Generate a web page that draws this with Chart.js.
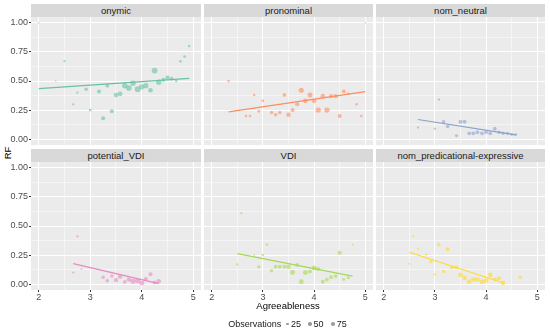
<!DOCTYPE html>
<html>
<head>
<meta charset="utf-8">
<script src="https://cdn.jsdelivr.net/npm/chart.js@4.4.1/dist/chart.umd.min.js"></script>
<style>
  body { margin: 0; width: 550px; height: 330px; position: relative; overflow: hidden; background: #fff;
         font-family: "Liberation Sans", Arial, sans-serif; }
  canvas { position: absolute; }
  .strip { position: absolute; height: 13px; line-height: 13px; background: #D9D9D9; color: #1A1A1A;
           font-size: 9.5px; text-align: center; }
  .ytitle { position: absolute; left: 7px; top: 153px; transform: translate(-50%, -50%) rotate(-90deg);
            font-size: 9.5px; color: #000; }
  .xtitle { position: absolute; left: 288px; top: 305px; transform: translate(-50%, -50%);
            font-size: 9.5px; color: #000; white-space: nowrap; }
  .legend { position: absolute; left: 28px; width: 522px; top: 318px; height: 12px; display: flex;
            justify-content: center; align-items: center; font-size: 9px; color: #1A1A1A; }
  .legend .dot { display: inline-block; border-radius: 50%; background: rgba(51,51,51,0.5); margin: 0 2px 0 4px; }
  .legend .lab { margin-right: 3px; }
</style>
</head>
<body>
<script>
'use strict';

// ---- data (Agreeableness, RF, number of observations) ----
const onymicX  = [2.0, 2.33, 2.5, 2.67, 2.75, 2.92, 3.0, 3.17, 3.25, 3.33, 3.42, 3.5, 3.58, 3.67, 3.75, 3.83, 3.92, 4.0, 4.08, 4.17, 4.25, 4.33, 4.42, 4.5, 4.58, 4.67, 4.75, 4.83, 4.92];
const onymicRF = [1.0, 0.50, 0.67, 0.30, 0.40, 0.43, 0.25, 0.41, 0.18, 0.46, 0.24, 0.38, 0.39, 0.46, 0.44, 0.48, 0.43, 0.45, 0.46, 0.42, 0.59, 0.49, 0.51, 0.53, 0.52, 0.50, 0.67, 0.71, 0.80];
const onymicN  = [4, 4, 15, 15, 15, 50, 30, 70, 70, 60, 70, 100, 110, 150, 160, 150, 170, 140, 130, 100, 170, 140, 80, 80, 60, 20, 20, 25, 20];
const onymicFitX = [2.0, 4.92];
const onymicFitY = [0.434, 0.523];

const pronominalX  = [2.33, 2.67, 2.75, 2.83, 2.92, 3.0, 3.17, 3.25, 3.33, 3.42, 3.5, 3.58, 3.67, 3.75, 3.83, 3.92, 4.0, 4.08, 4.17, 4.25, 4.33, 4.42, 4.5, 4.58, 4.67, 4.83, 4.92, 5.0];
const pronominalRF = [0.50, 0.20, 0.20, 0.38, 0.24, 0.33, 0.23, 0.21, 0.23, 0.38, 0.21, 0.25, 0.30, 0.42, 0.33, 0.38, 0.33, 0.25, 0.37, 0.25, 0.37, 0.37, 0.20, 0.41, 0.39, 0.30, 0.20, 1.0];
const pronominalN  = [20, 20, 20, 20, 30, 25, 50, 50, 50, 60, 90, 70, 80, 130, 110, 130, 110, 140, 100, 140, 80, 80, 70, 60, 25, 20, 20, 4];
const pronominalFitX = [2.33, 5.0];
const pronominalFitY = [0.234, 0.409];

const neutralX  = [2.67, 3.0, 3.08, 3.17, 3.25, 3.42, 3.5, 3.58, 3.67, 3.75, 3.83, 3.92, 4.0, 4.08, 4.17, 4.25, 4.33, 4.42, 4.5, 4.58];
const neutralRF = [0.10, 0.09, 0.34, 0.15, 0.11, 0.03, 0.15, 0.15, 0.05, 0.05, 0.06, 0.05, 0.06, 0.05, 0.09, 0.06, 0.05, 0.05, 0.04, 0.04];
const neutralN  = [15, 15, 15, 50, 50, 30, 70, 70, 60, 60, 60, 60, 60, 60, 60, 50, 50, 40, 30, 25];
const neutralFitX = [2.67, 4.58];
const neutralFitY = [0.169, 0.037];

const potentialX  = [2.67, 2.75, 2.83, 3.25, 3.33, 3.42, 3.5, 3.58, 3.67, 3.75, 3.83, 3.92, 4.0, 4.08, 4.17, 4.25, 4.33];
const potentialRF = [0.10, 0.41, 0.13, 0.06, 0.03, 0.07, 0.035, 0.065, 0.02, 0.04, 0.025, 0.03, 0.01, 0.045, 0.085, 0.015, 0.025];
const potentialN  = [15, 15, 6, 50, 50, 50, 90, 90, 60, 90, 130, 130, 120, 70, 70, 60, 90];
const potentialFitX = [2.67, 4.33];
const potentialFitY = [0.176, 0.005];

const vdiX  = [2.5, 2.58, 2.83, 2.92, 3.0, 3.08, 3.17, 3.25, 3.33, 3.42, 3.5, 3.58, 3.67, 3.75, 3.83, 3.92, 4.0, 4.08, 4.17, 4.25, 4.33, 4.42, 4.5, 4.58, 4.67, 4.75];
const vdiRF = [0.17, 0.61, 0.25, 0.15, 0.25, 0.34, 0.115, 0.15, 0.15, 0.15, 0.15, 0.10, 0.165, 0.02, 0.10, 0.11, 0.14, 0.13, 0.02, 0.04, 0.06, 0.07, 0.27, 0.04, 0.055, 0.34];
const vdiN  = [15, 15, 6, 40, 20, 20, 50, 60, 60, 70, 90, 120, 60, 120, 120, 70, 110, 70, 70, 60, 60, 60, 80, 30, 30, 6];
const vdiFitX = [2.5, 4.75];
const vdiFitY = [0.262, 0.069];

const predX  = [2.5, 2.58, 2.67, 2.83, 2.92, 3.0, 3.08, 3.17, 3.25, 3.33, 3.42, 3.5, 3.58, 3.67, 3.75, 3.83, 3.92, 4.0, 4.08, 4.17, 4.25, 4.33, 4.67];
const predRF = [0.175, 0.41, 0.305, 0.255, 0.195, 0.085, 0.34, 0.11, 0.30, 0.145, 0.145, 0.08, 0.055, 0.02, 0.04, 0.04, 0.02, 0.03, 0.08, 0.04, 0.05, 0.012, 0.06];
const predN  = [15, 15, 15, 20, 40, 25, 50, 50, 80, 60, 60, 110, 110, 110, 110, 110, 120, 110, 110, 70, 70, 110, 50];
const predFitX = [2.5, 4.33];
const predFitY = [0.274, 0.012];

const xMajor = [2, 3, 4, 5];
const xMinor = [2.5, 3.5, 4.5];
const yMajor = [0, 0.25, 0.5, 0.75, 1];
const yMinor = [0.125, 0.375, 0.625, 0.875];
const legendCounts = [25, 50, 75];

// ---- layout ----
const colLeft = [31, 204, 376];
const colWidth = [170, 169, 169];
const rowTop = [17, 162];
const plotH = 128;
const yAxisW = 31;
const xAxisH = 12;

const panels = [
    { name: 'onymic', row: 0, col: 0, color: '102,194,165', x: onymicX, y: onymicRF, n: onymicN, fx: onymicFitX, fy: onymicFitY },
    { name: 'pronominal', row: 0, col: 1, color: '252,141,98', x: pronominalX, y: pronominalRF, n: pronominalN, fx: pronominalFitX, fy: pronominalFitY },
    { name: 'nom_neutral', row: 0, col: 2, color: '141,160,203', x: neutralX, y: neutralRF, n: neutralN, fx: neutralFitX, fy: neutralFitY },
    { name: 'potential_VDI', row: 1, col: 0, color: '231,138,195', x: potentialX, y: potentialRF, n: potentialN, fx: potentialFitX, fy: potentialFitY },
    { name: 'VDI', row: 1, col: 1, color: '166,216,84', x: vdiX, y: vdiRF, n: vdiN, fx: vdiFitX, fy: vdiFitY },
    { name: 'nom_predicational-expressive', row: 1, col: 2, color: '255,217,47', x: predX, y: predRF, n: predN, fx: predFitX, fy: predFitY }
];

// size scale: radius grows with sqrt of the count
function sizeOf(n) {
    return 0.4 + 0.19 * Math.sqrt(n);
}

Chart.defaults.font.family = '"Liberation Sans", Arial, sans-serif';
Chart.defaults.font.size = 9;
Chart.defaults.color = '#4D4D4D';

const panelBg = {
    id: 'panelBg',
    beforeDraw(chart) {
        const { ctx, chartArea: a } = chart;
        ctx.save();
        ctx.fillStyle = '#EBEBEB';
        ctx.fillRect(a.left, a.top, a.width, a.height);
        ctx.restore();
    }
};

function gridOpts(major, showTicks) {
    const isMajor = ctx => ctx.tick && major.includes(ctx.tick.value);
    return {
        color: '#FFFFFF',
        lineWidth: ctx => (isMajor(ctx) ? 1 : 0.5),
        drawTicks: showTicks,
        tickLength: 2,
        tickColor: ctx => (isMajor(ctx) ? '#333333' : 'rgba(0,0,0,0)'),
        tickWidth: 1
    };
}

// fixed axis size, and no extra padding for edge labels
function fixSize(scale, prop, size) {
    scale[prop] = size;
    scale.paddingTop = 0;
    scale.paddingBottom = 0;
    scale.paddingLeft = 0;
    scale.paddingRight = 0;
}

function addStrip(p) {
    const div = document.createElement('div');
    div.className = 'strip';
    div.textContent = p.name;
    div.style.left = colLeft[p.col] + 'px';
    div.style.width = colWidth[p.col] + 'px';
    div.style.top = (rowTop[p.row] - 13) + 'px';
    document.body.appendChild(div);
}

function drawPanel(p) {
    const showY = p.col === 0;
    const showX = p.row === 1;
    const canvas = document.createElement('canvas');
    const left = showY ? colLeft[p.col] - yAxisW : colLeft[p.col];
    const width = colWidth[p.col] + (showY ? yAxisW : 0);
    const height = plotH + (showX ? xAxisH : 0);
    canvas.width = width;
    canvas.height = height;
    canvas.style.left = left + 'px';
    canvas.style.top = rowTop[p.row] + 'px';
    canvas.style.width = width + 'px';
    canvas.style.height = height + 'px';
    document.body.appendChild(canvas);

    const points = p.x.map((v, i) => ({ x: v, y: p.y[i] }));
    const fit = p.fx.map((v, i) => ({ x: v, y: p.fy[i] }));

    new Chart(canvas.getContext('2d'), {
        type: 'scatter',
        data: {
            datasets: [
                {
                    // fitted line, first so it sits on top of the points
                    data: fit,
                    showLine: true,
                    borderColor: `rgb(${p.color})`,
                    borderWidth: 1.2,
                    pointRadius: 0
                },
                {
                    data: points,
                    backgroundColor: `rgba(${p.color},0.6)`,
                    borderWidth: 0,
                    pointRadius: ctx => sizeOf(p.n[ctx.dataIndex])
                }
            ]
        },
        options: {
            responsive: false,
            animation: false,
            devicePixelRatio: 1,
            layout: { padding: 0, autoPadding: false },
            plugins: { legend: { display: false }, tooltip: { enabled: false } },
            scales: {
                x: {
                    type: 'linear',
                    min: 1.85,
                    max: 5.15,
                    afterBuildTicks: scale => { scale.ticks = xMajor.concat(xMinor).map(v => ({ value: v })); },
                    afterFit: scale => fixSize(scale, 'height', showX ? xAxisH : 0),
                    grid: gridOpts(xMajor, showX),
                    border: { display: false },
                    ticks: {
                        display: showX,
                        padding: 0,
                        maxRotation: 0,
                        callback: v => (xMajor.includes(v) ? String(v) : '')
                    }
                },
                y: {
                    type: 'linear',
                    min: -0.05,
                    max: 1.05,
                    afterBuildTicks: scale => { scale.ticks = yMajor.concat(yMinor).map(v => ({ value: v })); },
                    afterFit: scale => fixSize(scale, 'width', showY ? yAxisW : 0),
                    grid: gridOpts(yMajor, showY),
                    border: { display: false },
                    ticks: {
                        display: showY,
                        padding: 1,
                        callback: v => (yMajor.includes(v) ? v.toFixed(2) : '')
                    }
                }
            }
        },
        plugins: [panelBg]
    });
}

panels.forEach(p => {
    addStrip(p);
    drawPanel(p);
});

// axis titles
const yTitle = document.createElement('div');
yTitle.className = 'ytitle';
yTitle.textContent = 'RF';
document.body.appendChild(yTitle);

const xTitle = document.createElement('div');
xTitle.className = 'xtitle';
xTitle.textContent = 'Agreeableness';
document.body.appendChild(xTitle);

// size legend
const legend = document.createElement('div');
legend.className = 'legend';
const title = document.createElement('span');
title.textContent = 'Observations';
title.style.marginRight = '1px';
legend.appendChild(title);
legendCounts.forEach(n => {
    const d = 2 * sizeOf(n);
    const dot = document.createElement('span');
    dot.className = 'dot';
    dot.style.width = d + 'px';
    dot.style.height = d + 'px';
    legend.appendChild(dot);
    const lab = document.createElement('span');
    lab.className = 'lab';
    lab.textContent = String(n);
    legend.appendChild(lab);
});
document.body.appendChild(legend);
</script>
</body>
</html>
